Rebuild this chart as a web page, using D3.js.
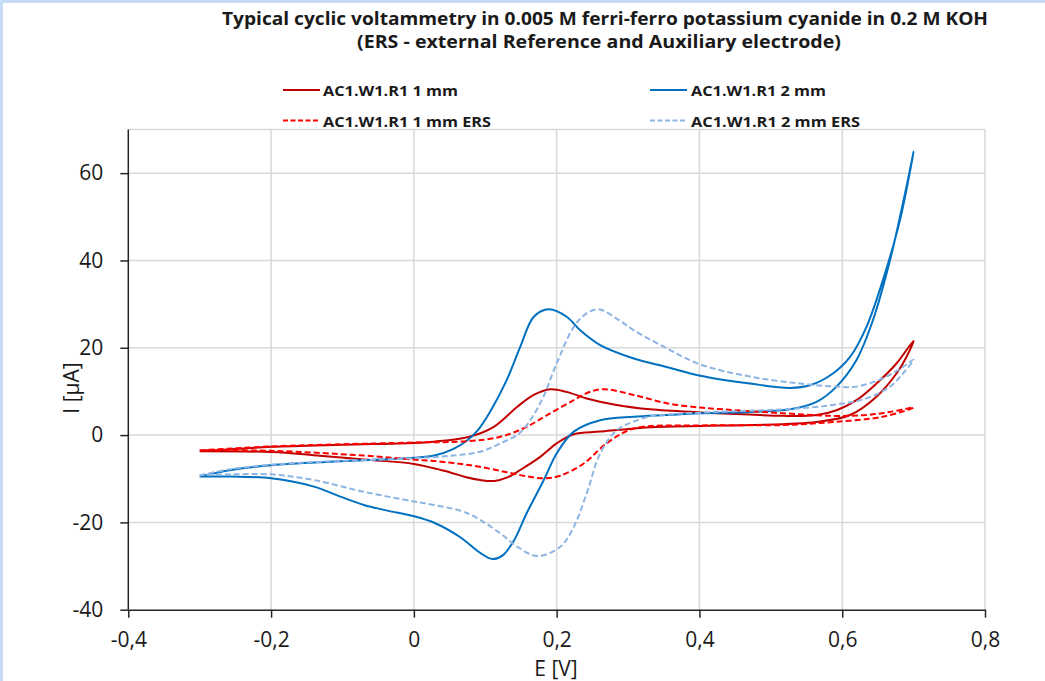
<!DOCTYPE html>
<html>
<head>
<meta charset="utf-8">
<script src="https://cdn.jsdelivr.net/npm/d3@7"></script>
<style>
  html, body { margin: 0; padding: 0; background: #fff; }
  svg { display: block; }
  text { font-family: "Open Sans", "Noto Sans", sans-serif; fill: #1a1a1a; }
</style>
</head>
<body>
<svg id="chart" width="1045" height="681"></svg>
<script>
// ---------------- DATA ----------------
const titleLines = [
  "Typical cyclic voltammetry in 0.005 M ferri-ferro potassium cyanide in 0.2 M KOH",
  "(ERS - external Reference and Auxiliary electrode)"
];
const seriesNames = ["AC1.W1.R1 1 mm", "AC1.W1.R1 2 mm", "AC1.W1.R1 1 mm ERS", "AC1.W1.R1 2 mm ERS"];
const xTicks = [-0.4, -0.2, 0, 0.2, 0.4, 0.6, 0.8];
const xTickLabels = ["-0,4", "-0,2", "0", "0,2", "0,4", "0,6", "0,8"];
const yTicks = [-40, -20, 0, 20, 40, 60];
const yTickLabels = ["-40", "-20", "0", "20", "40", "60"];
const xLabel = "E [V]";
const yLabel = "I [µA]";

// AC1.W1.R1 1 mm (forward then reverse scan)
const E_1mm = [-0.3,-0.2,-0.1,0,0.028,0.075,0.112,0.145,0.168,0.191,0.214,0.242,0.284,0.331,0.401,0.47,0.517,0.564,0.592,0.62,0.648,0.676,0.7,
               0.69,0.676,0.648,0.611,0.564,0.471,0.401,0.331,0.261,0.224,0.2,0.177,0.149,0.131,0.113,0.093,0.072,0.05,0.028,0,-0.07,-0.14,-0.2,-0.3];
const I_1mm = [-3.7,-2.7,-2.2,-1.8,-1.5,-0.5,1.9,6.5,9.2,10.5,9.9,8.4,6.9,5.9,5.2,4.7,4.4,4.6,5.7,8.0,11.8,16.4,21.6,
               17.9,14.1,8.8,4.6,3.0,2.3,2.1,1.8,0.8,0.2,-1.9,-5.0,-8.0,-9.7,-10.5,-10.3,-9.6,-8.5,-7.6,-6.6,-5.6,-4.6,-3.9,-3.7];

// AC1.W1.R1 2 mm
const E_2mm = [-0.3,-0.256,-0.2,-0.117,-0.047,0,0.03,0.055,0.075,0.09,0.107,0.13,0.149,0.168,0.189,0.214,0.233,0.261,0.307,0.354,0.401,0.471,0.527,0.555,0.587,0.611,0.634,0.657,0.681,0.7,
               0.69,0.667,0.643,0.62,0.592,0.564,0.527,0.471,0.401,0.354,0.308,0.261,0.224,0.2,0.182,0.158,0.14,0.124,0.11,0.093,0.065,0.03,0,-0.037,-0.07,-0.103,-0.14,-0.2,-0.256,-0.3];
const I_2mm = [-9.5,-8.0,-6.9,-6.1,-5.6,-5.2,-4.6,-3.2,-1.2,1.2,5.4,12.6,20.2,27.1,28.8,27.1,24.0,20.6,17.6,15.6,13.6,11.8,10.8,11.4,14.1,17.9,24.8,35.5,49.3,64.9,
               56.9,40.1,26.3,17.2,11.1,7.6,5.9,5.3,5.0,4.6,4.2,3.4,0.8,-4.2,-10.3,-17.9,-24.2,-27.6,-28.4,-27.0,-23.4,-20.2,-18.6,-17.3,-16.0,-14.1,-11.8,-9.9,-9.5,-9.5];

// AC1.W1.R1 1 mm ERS
const E_1mmERS = [-0.3,-0.2,-0.1,0,0.075,0.121,0.158,0.191,0.224,0.245,0.266,0.308,0.354,0.401,0.424,0.517,0.587,0.634,0.667,0.7,
                  0.657,0.587,0.517,0.401,0.308,0.27,0.238,0.205,0.182,0.16,0.13,0.09,0.05,0,-0.07,-0.2,-0.3];
const I_1mmERS = [-3.5,-2.6,-2.1,-1.7,-1.4,-0.4,1.9,5.0,8.0,9.8,10.5,9.2,7.3,6.3,6.0,5.0,4.4,4.6,5.3,6.3,
                  4.2,3.0,2.3,2.2,1.5,-1.9,-6.5,-9.3,-9.9,-9.5,-8.5,-7.2,-6.3,-5.6,-4.7,-3.6,-3.5];

// AC1.W1.R1 2 mm ERS
const E_2mmERS = [-0.3,-0.256,-0.2,-0.117,-0.047,0,0.047,0.093,0.121,0.149,0.177,0.2,0.224,0.242,0.259,0.284,0.308,0.354,0.401,0.471,0.541,0.592,0.62,0.657,0.685,0.7,
                  0.685,0.667,0.634,0.587,0.517,0.424,0.354,0.331,0.308,0.284,0.261,0.242,0.224,0.205,0.173,0.145,0.121,0.075,0.028,0,-0.07,-0.14,-0.2,-0.256,-0.3];
const I_2mmERS = [-9.2,-7.8,-6.8,-6.0,-5.6,-5.3,-4.8,-3.8,-1.9,0.6,7.3,16.4,24.8,27.9,28.8,26.7,24.0,19.9,16.2,13.4,11.8,11.1,11.1,13.0,15.6,17.3,
                  14.1,11.1,8.4,6.9,5.9,5.3,4.7,4.3,3.1,1.1,-4.2,-13.4,-21.0,-25.6,-27.7,-25.6,-22.5,-17.9,-16.0,-15.2,-13.0,-10.3,-9.0,-9.0,-9.2];

const seriesE = [E_1mm, E_2mm, E_1mmERS, E_2mmERS];
const seriesI = [I_1mm, I_2mm, I_1mmERS, I_2mmERS];

// ---------------- STYLE / LAYOUT ----------------
const styles = [
  { color: "#C00000", dash: null, legendDash: null },
  { color: "#0070C0", dash: null, legendDash: null },
  { color: "#FF0000", dash: "6,3", legendDash: "5,2.5" },
  { color: "#8DB4E2", dash: "6,3", legendDash: "5,2.5" }
];

const svg = d3.select("#chart");
svg.append("rect").attr("width", 1045).attr("height", 681).attr("fill", "#fff");
svg.append("rect").attr("x", 0).attr("y", 0).attr("width", 1045).attr("height", 3).attr("fill", "#C6DCF6");
svg.append("rect").attr("x", 0).attr("y", 0).attr("width", 3).attr("height", 681).attr("fill", "#C6DCF6");

const x = d3.scaleLinear().domain([-0.4, 0.8]).range([128.3, 985]);
const y = d3.scaleLinear().domain([-40, 70]).range([609.7, 129.5]);

// gridlines
const grid = svg.append("g");
grid.selectAll("line.v").data(xTicks.slice(1)).join("line")
  .attr("x1", d => x(d)).attr("x2", d => x(d))
  .attr("y1", y(70)).attr("y2", y(-40))
  .attr("stroke", "#D9D9D9").attr("stroke-width", 1.5);
grid.selectAll("line.h").data(yTicks.slice(1).concat([70])).join("line")
  .attr("x1", x(-0.4)).attr("x2", x(0.8))
  .attr("y1", d => y(d)).attr("y2", d => y(d))
  .attr("stroke", "#D9D9D9").attr("stroke-width", 1.5);

// axes
const xAxis = svg.append("g").attr("transform", `translate(0,${y(-40)})`)
  .call(d3.axisBottom(x).tickValues(xTicks).tickFormat((d, i) => xTickLabels[i])
    .tickSize(8).tickPadding(14).tickSizeOuter(0));
const yAxis = svg.append("g").attr("transform", `translate(${x(-0.4)},0)`)
  .call(d3.axisLeft(y).tickValues(yTicks).tickFormat((d, i) => yTickLabels[i])
    .tickSize(8).tickPadding(17).tickSizeOuter(0));
[xAxis, yAxis].forEach(a => {
  a.select(".domain").attr("stroke", "#262626").attr("stroke-width", 1.5);
  a.selectAll(".tick line").attr("stroke", "#262626").attr("stroke-width", 1.5);
  a.selectAll(".tick text").attr("font-size", 21).attr("fill", "#1a1a1a")
    .attr("font-family", "'Open Sans', sans-serif");
});
yAxis.select(".domain").attr("d", `M0,${y(70)}V${y(-40)}`);

// axis titles
svg.append("text").attr("x", 556).attr("y", 676).attr("text-anchor", "middle")
  .attr("font-size", 21).text(xLabel);
svg.append("text").attr("transform", "translate(79,388) rotate(-90)").attr("text-anchor", "middle")
  .attr("font-size", 21).text(yLabel);

// series
const line = d3.line().x(d => x(d[0])).y(d => y(d[1])).curve(d3.curveCatmullRom.alpha(0.5));
const plot = svg.append("g");
seriesE.forEach((E, k) => {
  const pts = E.map((e, i) => [e, seriesI[k][i]]);
  plot.append("path").datum(pts)
    .attr("d", line)
    .attr("fill", "none")
    .attr("stroke", styles[k].color)
    .attr("stroke-width", 2)
    .attr("stroke-dasharray", styles[k].dash)
    .attr("stroke-linejoin", "round");
});

// title
const titleFmt = [
  { x: 222, y: 25, len: 766 },
  { x: 357, y: 48, len: 484 }
];
titleLines.forEach((t, i) => {
  svg.append("text").attr("x", titleFmt[i].x).attr("y", titleFmt[i].y)
    .attr("font-size", 17).attr("font-weight", "bold")
    .attr("textLength", titleFmt[i].len).attr("lengthAdjust", "spacingAndGlyphs")
    .text(t);
});

// legend
const legendPos = [
  { lx: 283, ly: 90, tx: 323, ty: 96, len: 135 },
  { lx: 650, ly: 90, tx: 691, ty: 96, len: 135 },
  { lx: 283, ly: 120.5, tx: 323, ty: 126.5, len: 168 },
  { lx: 650, ly: 120.5, tx: 691, ty: 126.5, len: 169 }
];
const legend = svg.append("g");
seriesNames.forEach((n, k) => {
  const p = legendPos[k];
  legend.append("line").attr("x1", p.lx).attr("x2", p.lx + 37)
    .attr("y1", p.ly).attr("y2", p.ly)
    .attr("stroke", styles[k].color).attr("stroke-width", 2)
    .attr("stroke-dasharray", styles[k].legendDash);
  legend.append("text").attr("x", p.tx).attr("y", p.ty)
    .attr("font-size", 15).attr("font-weight", "bold")
    .attr("textLength", p.len).attr("lengthAdjust", "spacingAndGlyphs")
    .text(n);
});
</script>
</body>
</html>
